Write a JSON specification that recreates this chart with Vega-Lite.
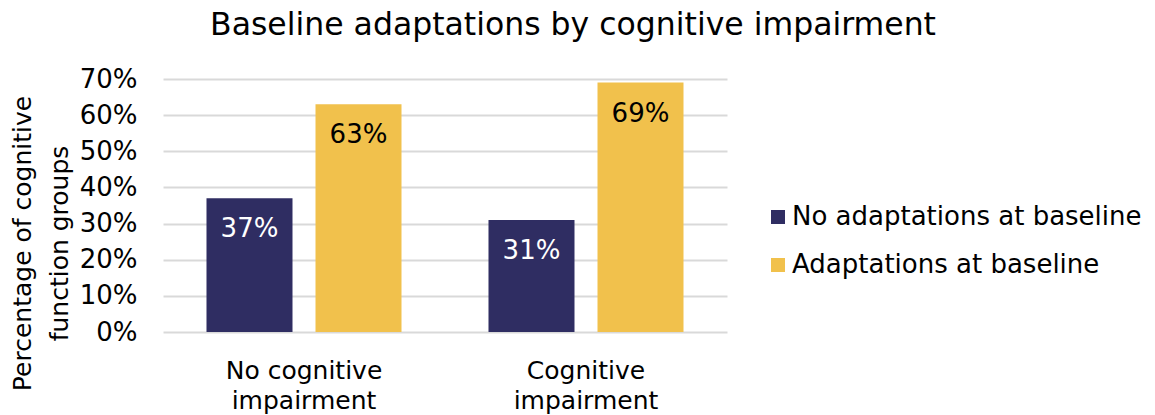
{
  "$schema": "https://vega.github.io/schema/vega-lite/v6.json",
  "width": 564,
  "height": 253,
  "autosize": {"type": "none"},
  "padding": {"left": 163, "top": 79, "right": 428, "bottom": 83},
  "background": "white",
  "config": {
    "font": "DejaVu Sans",
    "view": {"stroke": null}
  },
  "title": {
    "text": "Baseline adaptations by cognitive impairment",
    "fontSize": 31.5,
    "fontWeight": "normal",
    "color": "#000000",
    "anchor": "middle",
    "frame": "group",
    "dx": 128,
    "dy": 39,
    "baseline": "alphabetic",
    "offset": 39
  },
  "data": {
    "values": [
      {"group": "No cognitive impairment", "type": "No adaptations at baseline", "pct": 0.37},
      {"group": "No cognitive impairment", "type": "Adaptations at baseline", "pct": 0.63},
      {"group": "Cognitive impairment", "type": "No adaptations at baseline", "pct": 0.31},
      {"group": "Cognitive impairment", "type": "Adaptations at baseline", "pct": 0.69}
    ]
  },
  "encoding": {
    "x": {
      "field": "group",
      "type": "nominal",
      "sort": ["No cognitive impairment", "Cognitive impairment"],
      "scale": {"paddingInner": 0, "paddingOuter": 0},
      "axis": {
        "title": null,
        "labelAngle": 0,
        "labelFontSize": 25,
        "labelColor": "#000000",
        "labelPadding": 26,
        "labelLineHeight": 30,
        "labelExpr": "datum.value == 'No cognitive impairment' ? ['No cognitive', 'impairment'] : ['Cognitive', 'impairment']",
        "ticks": false,
        "domain": false,
        "grid": false
      }
    },
    "xOffset": {
      "field": "type",
      "type": "nominal",
      "sort": ["No adaptations at baseline", "Adaptations at baseline"],
      "scale": {"paddingInner": 0.211, "paddingOuter": 0.399}
    },
    "y": {
      "field": "pct",
      "type": "quantitative",
      "scale": {"domain": [0, 0.7]},
      "axis": {
        "values": [0, 0.1, 0.2, 0.3, 0.4, 0.5, 0.6, 0.7],
        "format": ".0%",
        "labelFontSize": 26,
        "labelColor": "#000000",
        "labelPadding": 26,
        "ticks": false,
        "domain": false,
        "gridColor": "#d9d9d9",
        "gridWidth": 2,
        "title": ["Percentage of cognitive", "function groups"],
        "titleFontSize": 25,
        "titleFontWeight": "normal",
        "titleColor": "#000000",
        "titleAngle": -90,
        "titleBaseline": "middle",
        "titleAlign": "center",
        "titleLineHeight": 37,
        "titleX": -141,
        "titleY": 164
      }
    }
  },
  "layer": [
    {
      "mark": {"type": "bar"},
      "encoding": {
        "color": {
          "field": "type",
          "type": "nominal",
          "sort": ["No adaptations at baseline", "Adaptations at baseline"],
          "scale": {"domain": ["No adaptations at baseline", "Adaptations at baseline"], "range": ["#2f2d62", "#f1c14c"]},
          "legend": {
            "title": null,
            "orient": "none",
            "legendX": 602,
            "legendY": 125,
            "symbolType": "square",
            "symbolSize": 196,
            "symbolStrokeWidth": 0,
            "labelFontSize": 26,
            "labelColor": "#000000",
            "labelOffset": 1,
            "rowPadding": 22,
            "labelLimit": 500
          }
        }
      }
    },
    {
      "mark": {"type": "text", "baseline": "middle", "dy": 31, "fontSize": 26},
      "encoding": {
        "text": {"field": "pct", "type": "quantitative", "format": ".0%"},
        "color": {
          "condition": {"test": "datum.type == 'No adaptations at baseline'", "value": "#ffffff"},
          "value": "#000000"
        }
      }
    }
  ]
}
